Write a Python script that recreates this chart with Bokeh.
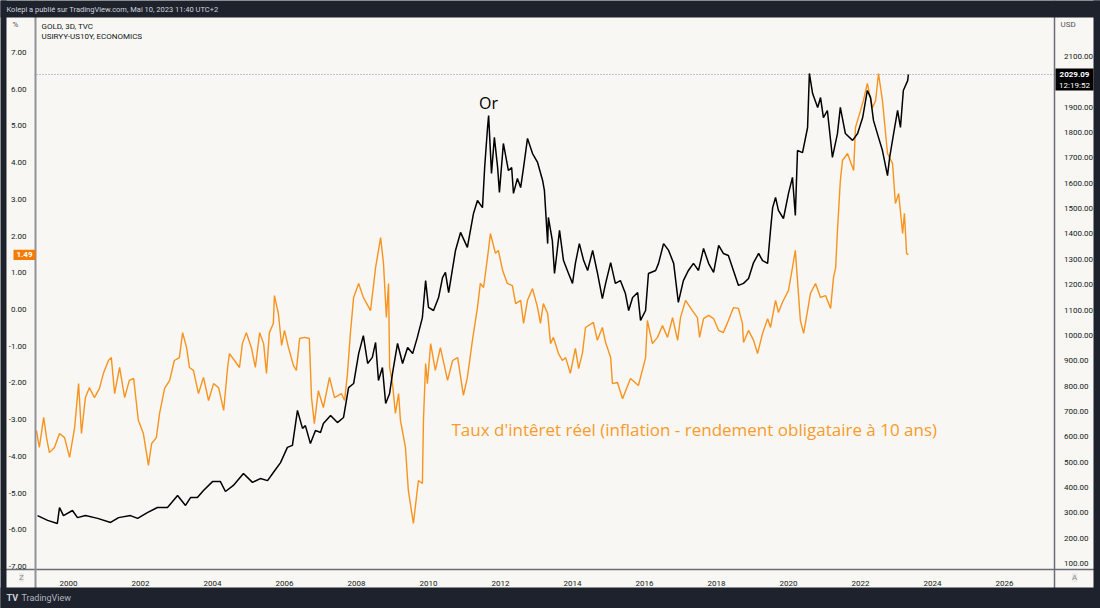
from bokeh.plotting import figure
from bokeh.models import (Range1d, LinearAxis, FixedTicker, NumeralTickFormatter,
                          Label, BoxAnnotation)
from bokeh.embed import file_html
from bokeh.resources import INLINE

# ---------------- data ----------------
# real interest rate, % (year, value)
real_rate_points = [
    (1999.11, -3.30), (1999.19, -3.76), (1999.31, -2.94), (1999.39, -3.49), (1999.47, -3.90),
    (1999.61, -3.76), (1999.75, -3.38), (1999.89, -3.49), (2000.03, -4.03), (2000.17, -3.22),
    (2000.28, -2.02), (2000.36, -3.38), (2000.47, -2.40), (2000.58, -2.13), (2000.72, -2.40),
    (2000.86, -2.15), (2000.97, -1.74), (2001.11, -1.39), (2001.19, -1.31), (2001.28, -2.29),
    (2001.42, -1.58), (2001.56, -2.40), (2001.69, -1.93), (2001.81, -1.88), (2001.94, -3.02),
    (2002.08, -3.38), (2002.22, -4.25), (2002.31, -3.65), (2002.44, -3.49), (2002.53, -2.83),
    (2002.67, -2.15), (2002.81, -1.93), (2002.94, -1.39), (2003.08, -1.31), (2003.17, -0.63),
    (2003.28, -1.04), (2003.36, -1.58), (2003.47, -1.66), (2003.61, -2.29), (2003.75, -1.85),
    (2003.89, -2.48), (2004.03, -2.02), (2004.17, -2.13), (2004.31, -2.75), (2004.42, -1.58),
    (2004.47, -1.20), (2004.61, -1.39), (2004.75, -1.58), (2004.83, -0.93), (2004.94, -0.63),
    (2005.08, -1.04), (2005.19, -1.58), (2005.31, -0.63), (2005.42, -0.93), (2005.50, -1.74),
    (2005.58, -0.63), (2005.69, -0.38), (2005.72, 0.38), (2005.83, -0.11), (2005.92, -0.98),
    (2006.00, -0.57), (2006.11, -1.04), (2006.25, -1.53), (2006.33, -1.66), (2006.42, -0.79),
    (2006.56, -0.76), (2006.69, -0.79), (2006.75, -2.40), (2006.83, -3.11), (2006.94, -2.21),
    (2007.08, -2.67), (2007.25, -1.85), (2007.39, -2.40), (2007.58, -2.29), (2007.67, -2.48),
    (2007.75, -1.74), (2007.83, -0.65), (2007.92, 0.33), (2008.06, 0.71), (2008.19, 0.33),
    (2008.39, -0.03), (2008.53, 1.14), (2008.67, 1.96), (2008.75, 1.25), (2008.83, -0.22),
    (2008.89, 0.71), (2008.92, -1.58), (2009.00, -2.02), (2009.08, -2.83), (2009.17, -2.29),
    (2009.22, -3.02), (2009.36, -3.76), (2009.44, -4.93), (2009.58, -5.83), (2009.72, -4.66),
    (2009.83, -4.74), (2009.86, -3.02), (2009.92, -1.47), (2009.97, -2.02), (2010.06, -0.93),
    (2010.19, -1.66), (2010.33, -1.04), (2010.53, -1.93), (2010.67, -1.39), (2010.81, -1.31),
    (2010.97, -2.34), (2011.08, -1.85), (2011.22, -0.84), (2011.36, 0.05), (2011.44, 0.71),
    (2011.53, 0.60), (2011.64, 1.42), (2011.72, 2.07), (2011.86, 1.53), (2011.94, 1.61),
    (2012.06, 1.06), (2012.19, 0.71), (2012.33, 0.65), (2012.42, 0.16), (2012.56, 0.25),
    (2012.64, -0.38), (2012.75, 0.25), (2012.89, 0.57), (2013.03, 0.05), (2013.11, -0.38),
    (2013.19, 0.16), (2013.31, -0.11), (2013.39, -0.93), (2013.47, -0.76), (2013.61, -1.20),
    (2013.72, -1.39), (2013.81, -1.31), (2013.94, -1.74), (2014.08, -1.06), (2014.17, -1.61),
    (2014.28, -1.17), (2014.36, -0.49), (2014.58, -0.35), (2014.69, -0.84), (2014.83, -0.49),
    (2014.92, -0.90), (2015.06, -1.31), (2015.11, -2.02), (2015.25, -1.99), (2015.39, -2.43),
    (2015.61, -1.88), (2015.83, -2.07), (2015.94, -1.66), (2016.03, -1.31), (2016.08, -0.30),
    (2016.22, -0.93), (2016.36, -0.76), (2016.50, -0.44), (2016.64, -0.76), (2016.78, -0.22),
    (2016.92, -0.84), (2017.00, -0.22), (2017.14, 0.25), (2017.33, -0.03), (2017.47, -0.22),
    (2017.53, -0.76), (2017.64, -0.25), (2017.78, -0.16), (2017.92, -0.25), (2018.06, -0.57),
    (2018.19, -0.63), (2018.33, -0.30), (2018.47, 0.05), (2018.61, 0.03), (2018.72, -0.38),
    (2018.75, -0.90), (2018.89, -0.57), (2019.03, -0.84), (2019.14, -1.20), (2019.28, -0.65),
    (2019.42, -0.25), (2019.50, -0.49), (2019.64, 0.25), (2019.72, -0.08), (2019.83, 0.19),
    (2020.00, 0.52), (2020.11, 1.14), (2020.19, 1.61), (2020.25, 0.79), (2020.33, -0.30),
    (2020.42, -0.65), (2020.53, -0.03), (2020.61, 0.44), (2020.75, 0.71), (2020.89, 0.33),
    (2021.03, 0.38), (2021.17, 0.03), (2021.25, 0.87), (2021.31, 1.14), (2021.36, 2.15),
    (2021.44, 3.51), (2021.50, 4.06), (2021.64, 4.25), (2021.81, 3.79), (2021.86, 4.96),
    (2022.00, 5.42), (2022.08, 5.69), (2022.19, 6.16), (2022.33, 5.50), (2022.42, 5.69),
    (2022.50, 6.43), (2022.61, 5.69), (2022.75, 4.25), (2022.89, 3.98), (2022.97, 2.89),
    (2023.06, 3.16), (2023.17, 2.07), (2023.22, 2.62), (2023.28, 1.53), (2023.33, 1.49),
]

# gold price, USD (year, value)
gold_points = [
    (1999.14, 289), (1999.42, 270), (1999.69, 258), (1999.75, 321), (1999.86, 289),
    (2000.11, 309), (2000.25, 281), (2000.47, 289), (2000.81, 278), (2001.17, 262),
    (2001.39, 281), (2001.72, 289), (2001.92, 278), (2002.19, 301), (2002.47, 321),
    (2002.75, 321), (2003.03, 368), (2003.25, 329), (2003.39, 360), (2003.58, 360),
    (2003.75, 388), (2004.00, 423), (2004.22, 423), (2004.36, 384), (2004.58, 408),
    (2004.86, 455), (2005.11, 420), (2005.33, 435), (2005.53, 427), (2005.69, 459),
    (2005.89, 498), (2006.08, 558), (2006.22, 566), (2006.36, 704), (2006.50, 633),
    (2006.58, 644), (2006.72, 573), (2006.86, 625), (2007.00, 617), (2007.08, 652),
    (2007.28, 684), (2007.47, 656), (2007.64, 676), (2007.78, 794), (2007.92, 810),
    (2008.06, 928), (2008.19, 999), (2008.31, 889), (2008.44, 913), (2008.53, 972),
    (2008.61, 822), (2008.72, 873), (2008.81, 731), (2008.92, 771), (2009.00, 850),
    (2009.14, 968), (2009.28, 889), (2009.42, 952), (2009.56, 928), (2009.69, 992),
    (2009.83, 1070), (2009.92, 1216), (2010.00, 1110), (2010.14, 1098), (2010.28, 1149),
    (2010.39, 1228), (2010.47, 1248), (2010.56, 1169), (2010.75, 1335), (2010.89, 1406),
    (2011.08, 1347), (2011.25, 1481), (2011.36, 1532), (2011.50, 1504), (2011.56, 1662),
    (2011.64, 1820), (2011.67, 1867), (2011.75, 1639), (2011.83, 1781), (2011.92, 1662),
    (2011.97, 1564), (2012.08, 1757), (2012.22, 1650), (2012.31, 1662), (2012.36, 1560),
    (2012.47, 1619), (2012.56, 1583), (2012.64, 1662), (2012.75, 1777), (2012.89, 1717),
    (2013.03, 1682), (2013.17, 1611), (2013.22, 1571), (2013.31, 1362), (2013.33, 1465),
    (2013.44, 1374), (2013.50, 1244), (2013.64, 1414), (2013.75, 1295), (2013.89, 1244),
    (2014.00, 1205), (2014.08, 1284), (2014.19, 1362), (2014.31, 1295), (2014.42, 1256),
    (2014.56, 1335), (2014.69, 1248), (2014.83, 1145), (2014.92, 1205), (2015.06, 1287),
    (2015.19, 1205), (2015.33, 1216), (2015.47, 1165), (2015.56, 1098), (2015.67, 1149),
    (2015.81, 1169), (2015.89, 1059), (2016.03, 1098), (2016.11, 1244), (2016.31, 1256),
    (2016.39, 1284), (2016.53, 1362), (2016.67, 1335), (2016.81, 1284), (2016.94, 1130),
    (2017.08, 1216), (2017.22, 1256), (2017.36, 1284), (2017.50, 1256), (2017.64, 1343),
    (2017.78, 1284), (2017.92, 1248), (2018.06, 1355), (2018.19, 1323), (2018.33, 1315),
    (2018.47, 1256), (2018.61, 1197), (2018.75, 1205), (2018.89, 1224), (2019.03, 1287),
    (2019.17, 1323), (2019.28, 1295), (2019.42, 1284), (2019.50, 1414), (2019.56, 1504),
    (2019.64, 1544), (2019.72, 1493), (2019.86, 1461), (2020.00, 1560), (2020.11, 1623),
    (2020.19, 1473), (2020.25, 1729), (2020.39, 1721), (2020.53, 1820), (2020.58, 2033),
    (2020.67, 1954), (2020.81, 1899), (2020.89, 1938), (2020.97, 1859), (2021.08, 1887),
    (2021.22, 1702), (2021.36, 1796), (2021.44, 1899), (2021.58, 1796), (2021.78, 1769),
    (2021.92, 1796), (2022.06, 1859), (2022.19, 1966), (2022.28, 1938), (2022.36, 1848),
    (2022.50, 1781), (2022.61, 1729), (2022.75, 1630), (2022.81, 1702), (2022.92, 1796),
    (2023.03, 1887), (2023.11, 1820), (2023.19, 1966), (2023.31, 2005), (2023.33, 2029.09),
]

rate_years = [t for t, _ in real_rate_points]
real_rate = [v for _, v in real_rate_points]
gold_years = [t for t, _ in gold_points]
gold_usd = [v for _, v in gold_points]

pct_ticks = [-7, -6, -5, -4, -3, -2, -1, 0, 1, 2, 3, 4, 5, 6, 7]
usd_ticks = [100, 200, 300, 400, 500, 600, 700, 800, 900, 1000, 1100,
             1200, 1300, 1400, 1500, 1600, 1700, 1800, 1900, 2000, 2100]
year_ticks = [2000, 2002, 2004, 2006, 2008, 2010, 2012, 2014, 2016, 2018, 2020, 2022, 2024, 2026]

last_rate = 1.49
last_gold = 2029.09

# ---------------- layout / style constants ----------------
W, H = 1100, 608
DARK = "#1e222d"
PANEL = "#f8f7f3"
ORANGE = "#f7931e"
TXT = "#131722"
AXIS = "#6a6d78"
FONT = "Roboto"

# the frame covers the whole canvas; axes are pinned with fixed_location
X_RANGE = (1998.1111, 2028.6667)
PCT_RANGE = (-8.1471, 8.4196)
USD_RANGE = (-77.5, 2320.9)
PLOT_LEFT_YEAR, PLOT_RIGHT_YEAR = 1999.111, 2027.389
LEFT_AXIS_AT, RIGHT_AXIS_AT, BOTTOM_AXIS_AT = 1999.0833, 2027.4028, -7.0845


def sx(px):
    return px


def sy(py):
    return H - py


p = figure(width=W, height=H, output_backend="svg", toolbar_location=None,
           x_range=Range1d(*X_RANGE), y_range=Range1d(*PCT_RANGE),
           min_border_left=0, min_border_right=0, min_border_top=0, min_border_bottom=0)
p.min_border = 0
p.extra_y_ranges = {"usd": Range1d(*USD_RANGE)}

p.background_fill_color = PANEL
p.border_fill_color = PANEL
p.outline_line_color = None
p.xgrid.visible = False
p.ygrid.visible = False


def style_axis(ax, standoff, line_width=1.5):
    ax.major_tick_line_color = None
    ax.minor_tick_line_color = None
    ax.axis_line_color = AXIS
    ax.axis_line_width = line_width
    ax.major_label_text_font = FONT
    ax.major_label_text_font_size = "8px"
    ax.major_label_text_color = TXT
    ax.major_label_standoff = standoff


left = p.yaxis[0]
left.ticker = FixedTicker(ticks=pct_ticks)
left.formatter = NumeralTickFormatter(format="0.00")
left.fixed_location = LEFT_AXIS_AT
style_axis(left, 3, 2)
left.axis_line_color = "#8f929b"

right = LinearAxis(y_range_name="usd", ticker=FixedTicker(ticks=usd_ticks),
                   formatter=NumeralTickFormatter(format="0.00"),
                   fixed_location=RIGHT_AXIS_AT)
style_axis(right, 3)
p.add_layout(right, "right")

bottom = p.xaxis[0]
bottom.ticker = FixedTicker(ticks=year_ticks)
bottom.formatter = NumeralTickFormatter(format="0")
bottom.fixed_location = BOTTOM_AXIS_AT
style_axis(bottom, 5)

# last-price dotted line across the plot area
p.segment(x0=[PLOT_LEFT_YEAR], x1=[PLOT_RIGHT_YEAR], y0=[last_gold], y1=[last_gold],
          y_range_name="usd", line_color="#8a8d96", line_width=1, line_dash="1 2")

# series
p.line(rate_years, real_rate, line_color=ORANGE, line_width=1.4)
p.line(gold_years, gold_usd, y_range_name="usd", line_color="#000000", line_width=1.5)


def box(l, r, t, b, color):
    p.add_layout(BoxAnnotation(left=sx(l), right=sx(r), top=sy(t), bottom=sy(b),
                               left_units="screen", right_units="screen",
                               top_units="screen", bottom_units="screen",
                               fill_color=color, fill_alpha=1, line_color=None))


# dark chrome: header, footer, side strips
box(-10, W + 10, -10, 17, DARK)
box(-10, W + 10, 587, H + 10, DARK)
box(-10, 6, -10, H + 10, DARK)
box(1093, W + 10, -10, H + 10, DARK)

# last-value badges
p.add_layout(BoxAnnotation(left=sx(13), right=sx(35), bottom=last_rate - 0.14, top=last_rate + 0.14,
                           left_units="screen", right_units="screen",
                           fill_color="#f57c00", fill_alpha=1, line_color=None))
box(1055, 1093, 68, 90, "#000000")


def lab(text, px, py, size="8px", color=TXT, align="left", style="normal", font=FONT, bg=None):
    kw = {}
    if bg is not None:
        kw = dict(background_fill_color=bg, background_fill_alpha=1)
    p.add_layout(Label(x=sx(px), y=sy(py), x_units="screen", y_units="screen", text=text,
                       text_font=font, text_font_size=size, text_color=color,
                       text_align=align, text_baseline="middle", text_font_style=style, **kw))


p.add_layout(Label(x=sx(24), y=last_rate, x_units="screen", y_units="data", text="1.49",
                   text_font=FONT, text_font_size="8px", text_color="#ffffff",
                   text_align="center", text_baseline="middle", text_font_style="bold"))
lab("2029.09", 1074, 74, color="#ffffff", align="center", style="bold")
lab("12:19:52", 1074, 84.5, color="#ffffff", align="center")

lab("Kolepi a publié sur TradingView.com, Mai 10, 2023 11:40 UTC+2", 6, 8.5, size="7.5px",
    color="#d1d4dc")
lab("%", 12, 24, color="#50535e")
lab("GOLD, 3D, TVC", 41, 26)
lab("USIRYY-US10Y, ECONOMICS", 41, 35.5)
lab("USD", 1060, 24, color="#50535e")
lab("Z", 21, 577, color="#8a8d96", align="center", bg="#ebebea")
lab("A", 1074, 577, color="#8a8d96", align="center", bg="#ebebea")
lab("TV", 6, 597, size="9px", color="#d1d4dc", style="bold")
lab("TradingView", 21, 597, size="9px", color="#b2b5be")

lab("Or", 488, 102, size="16px", color="#000000", align="center", font="Open Sans")
lab("Taux d'intêret réel (inflation - rendement obligataire à 10 ans)", 451, 428.5,
    size="17px", color="#f89b2c", font="Open Sans")

open("out.html", "w").write(file_html(p, INLINE))
